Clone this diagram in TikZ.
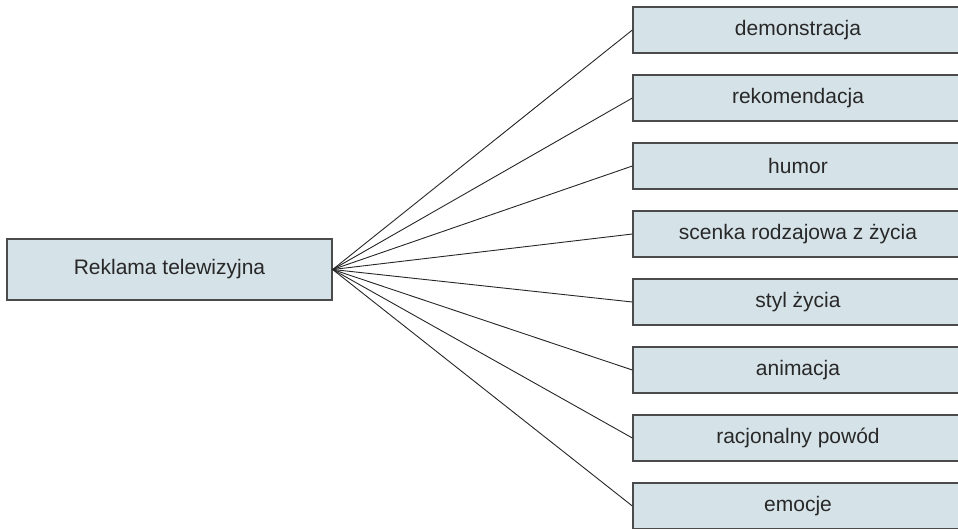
\documentclass[tikz,border=0pt]{standalone}
\usepackage{fontspec}
\setmainfont{Liberation Sans}
\usetikzlibrary{positioning}
\definecolor{boxfill}{RGB}{213,226,232}
\definecolor{boxline}{RGB}{75,75,75}
\definecolor{txtgray}{RGB}{40,40,40}

\begin{document}
\begin{tikzpicture}[x=1pt,y=1pt]
\tikzset{
block/.style={rectangle,draw=boxline,fill=boxfill,line width=1.3pt,inner sep=0pt,text=txtgray,font=\fontsize{21}{25}\selectfont},
mainblock/.style={block,minimum width=325pt,minimum height=61pt},
subblock/.style={block,minimum width=330pt,minimum height=46pt,node distance=68pt},
myline/.style={line width=0.9pt,draw=black!85},
}
\useasboundingbox (0,0) rectangle (958,-528);
\clip (0,0) rectangle (958,-528);

\node [mainblock] (tv) at (169.5,-269.5) {Reklama telewizyjna};
\node [subblock] (demo) at (798,-30) {demonstracja};
\node [subblock, below of=demo] (rekom) {rekomendacja};
\node [subblock, below of=rekom] (humor) {humor};
\node [subblock, below of=humor] (scenka) {scenka rodzajowa z życia};
\node [subblock, below of=scenka] (styl) {styl życia};
\node [subblock, below of=styl] (anim) {animacja};
\node [subblock, below of=anim] (racj) {racjonalny powód};
\node [subblock, below of=racj] (emocje) {emocje};
\draw[myline] (tv.east) -- (demo.west);
\draw[myline] (tv.east) -- (rekom.west);
\draw[myline] (tv.east) -- (humor.west);
\draw[myline] (tv.east) -- (scenka.west);
\draw[myline] (tv.east) -- (styl.west);
\draw[myline] (tv.east) -- (anim.west);
\draw[myline] (tv.east) -- (racj.west);
\draw[myline] (tv.east) -- (emocje.west);
\end{tikzpicture}
\end{document}
